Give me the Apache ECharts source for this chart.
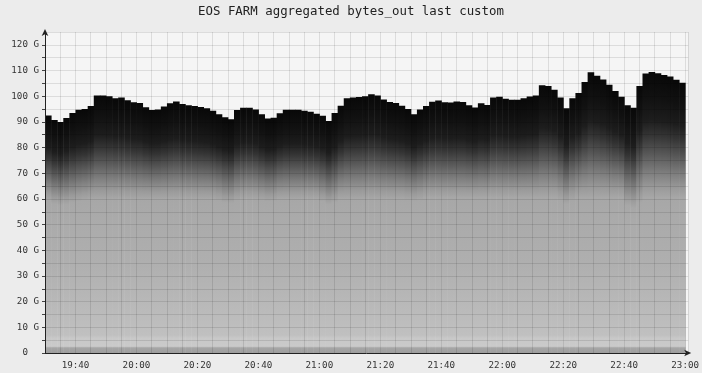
<!DOCTYPE html>
<html><head><meta charset="utf-8">
<script src="https://cdn.jsdelivr.net/npm/echarts@6/dist/echarts.min.js"></script>
<style>html,body{margin:0;padding:0;background:#ececec;}#c{width:702px;height:373px;}</style>
</head><body><div id="c"></div>
<script>
const TITLE = 'EOS FARM aggregated bytes_out last custom';
const START_MIN = 19 * 60 + 30;   // 19:30
const STEP_MIN = 2;               // one sample every 2 minutes
// total aggregated bytes_out (G), top of the stack
const totalOut = [
  92.5, 90.7, 90.0, 91.5, 93.5, 94.7, 95.0, 96.2, 100.3, 100.3,
  100.0, 99.2, 99.5, 98.4, 97.6, 97.4, 95.7, 94.6, 94.8, 96.0,
  97.3, 97.9, 97.0, 96.5, 96.2, 95.8, 95.3, 94.3, 93.0, 91.8,
  91.0, 94.6, 95.5, 95.5, 94.8, 93.0, 91.3, 91.6, 93.4, 94.7,
  94.7, 94.7, 94.3, 93.9, 93.2, 92.4, 90.3, 93.5, 96.3, 99.2,
  99.5, 99.7, 100.0, 100.8, 100.3, 98.7, 97.7, 97.4, 96.3, 95.0,
  93.0, 94.8, 96.2, 97.8, 98.3, 97.6, 97.5, 97.9, 97.7, 96.5,
  95.6, 97.3, 96.6, 99.5, 99.8, 99.0, 98.6, 98.6, 99.2, 99.9,
  100.3, 104.3, 104.0, 102.5, 99.5, 95.3, 99.2, 101.2, 105.5, 109.3,
  108.0, 106.5, 104.5, 102.0, 99.8, 96.5, 95.5, 104.0, 108.8, 109.4,
  108.9, 108.3, 107.7, 106.4, 105.2
];
// level (G) of the steady light-grey hosts below the dark band
const steadyPart = [
  59.5, 58.0, 57.5, 57.8, 58.5, 59.0, 59.5,
  60, 60, 60, 60, 60, 60, 60, 60, 60, 60, 60, 60, 60, 60, 60, 60, 60, 60, 60, 60, 60,
  59.5, 58.5, 58.3, 59.5,
  60, 60, 60,
  59.5, 59.0, 59.2,
  60, 60, 60, 60, 60, 60, 60,
  59.0, 57.8, 58.5,
  60, 60, 60, 60, 60, 60, 60, 60, 60, 60, 60,
  59.6, 59.3, 59.8,
  60.5, 60.5, 60.5, 60.5, 60.5, 60.5, 60.5, 60.5, 60.5, 60.5, 60.5,
  60.5, 60.5, 60.5, 60.5, 60.5, 60.5, 60.5, 60.5, 60.5, 60.5, 60.5,
  59.5, 58.0, 59.5,
  60.5, 60.5, 60.5, 60.5, 60.5, 60.5, 60.5, 60.5,
  57.5, 56.5, 58.5,
  60.5, 60.5, 60.5, 60.5, 60.5, 60.5, 60.5
];
const yTickLabels = ['0', '10 G', '20 G', '30 G', '40 G', '50 G', '60 G', '70 G', '80 G', '90 G', '100 G', '110 G', '120 G'];
const xTickLabels = ['19:40', '20:00', '20:20', '20:40', '21:00', '21:20', '21:40', '22:00', '22:20', '22:40', '23:00'];

const rows = totalOut.map((v, i) => [START_MIN + i * STEP_MIN, steadyPart[i], v]);

function renderItem(params, api) {
  const t = api.value(0), base = api.value(1), tot = api.value(2);
  const p0 = api.coord([t, 0]);
  const p1 = api.coord([t + STEP_MIN, tot]);
  const off = v => Math.min(1, Math.max(0, 1 - v / tot));
  const d = tot - base;
  const stops = [
    [tot, '#080808'],
    [base + 0.8 * d, '#111111'],
    [base + 0.62 * d, '#1d1d1d'],
    [base + 0.5 * d, '#343434'],
    [base + 0.35 * d, '#585858'],
    [base + 0.2 * d, '#7e7e7e'],
    [base + 0.08 * d, '#9a9a9a'],
    [base, '#a7a7a7'],
    [50, '#ababab'],
    [35, '#afafaf'],
    [20, '#b8b8b8'],
    [7, '#c0c0c0'],
    [5.8, '#c8c8c8'],
    [2.6, '#cacaca'],
    [2.0, '#a6a6a6'],
    [0, '#9e9e9e']
  ].map(s => ({ offset: off(s[0]), color: s[1] }));
  return {
    type: 'rect',
    shape: { x: p0[0], y: p1[1], width: p1[0] - p0[0] + 0.5, height: p0[1] - p1[1] },
    style: { fill: new echarts.graphic.LinearGradient(0, 0, 0, 1, stops) }
  };
}

const mono = 'DejaVu Sans Mono';
const chart = echarts.init(document.getElementById('c'), null, { renderer: 'canvas' });
chart.setOption({
  animation: false,
  backgroundColor: '#ececec',
  title: {
    text: TITLE, left: 'center', top: 1,
    textStyle: { fontFamily: mono, fontSize: 12.4, fontWeight: 'normal', color: '#222' }
  },
  grid: { left: 45, right: 10.5, top: 32, bottom: 20, show: true, backgroundColor: '#f5f5f5', borderWidth: 0 },
  xAxis: {
    type: 'value', min: START_MIN, max: START_MIN + 211, interval: 5, z: 10,
    axisLine: { show: true, lineStyle: { color: '#222', width: 1 }, symbol: ['none', 'arrow'], symbolSize: [5, 7], symbolOffset: [0, 3] },
    axisTick: { show: false },
    splitLine: { show: true, lineStyle: { color: 'rgba(0,0,0,0.1)', width: 1 } },
    axisLabel: {
      fontFamily: mono, fontSize: 9.2, color: '#333', margin: 8, showMaxLabel: false,
      formatter: v => {
        if ((v - START_MIN - 10) % 20 !== 0) return '';
        const k = (v - START_MIN - 10) / 20;
        return xTickLabels[k] || '';
      }
    }
  },
  yAxis: {
    type: 'value', min: 0, max: 125, interval: 5, z: 10,
    axisLine: { show: true, lineStyle: { color: '#222', width: 1 }, symbol: ['none', 'arrow'], symbolSize: [5, 7], symbolOffset: [0, 3] },
    axisTick: { show: true, length: 3, lineStyle: { color: '#444' } },
    splitLine: { show: true, lineStyle: { color: 'rgba(0,0,0,0.1)', width: 1 } },
    axisLabel: {
      fontFamily: mono, fontSize: 9.2, color: '#333', margin: 6, showMaxLabel: false,
      formatter: v => {
        if (v % 10 !== 0) return '';
        const s = yTickLabels[v / 10];
        if (!s) return '';
        return v === 0 ? s + '  ' : s;
      }
    }
  },
  series: [{
    type: 'custom', renderItem: renderItem, data: rows, clip: true, silent: true, z: 2,
    encode: { x: 0, y: [1, 2] }
  }]
});
</script>
</body></html>
